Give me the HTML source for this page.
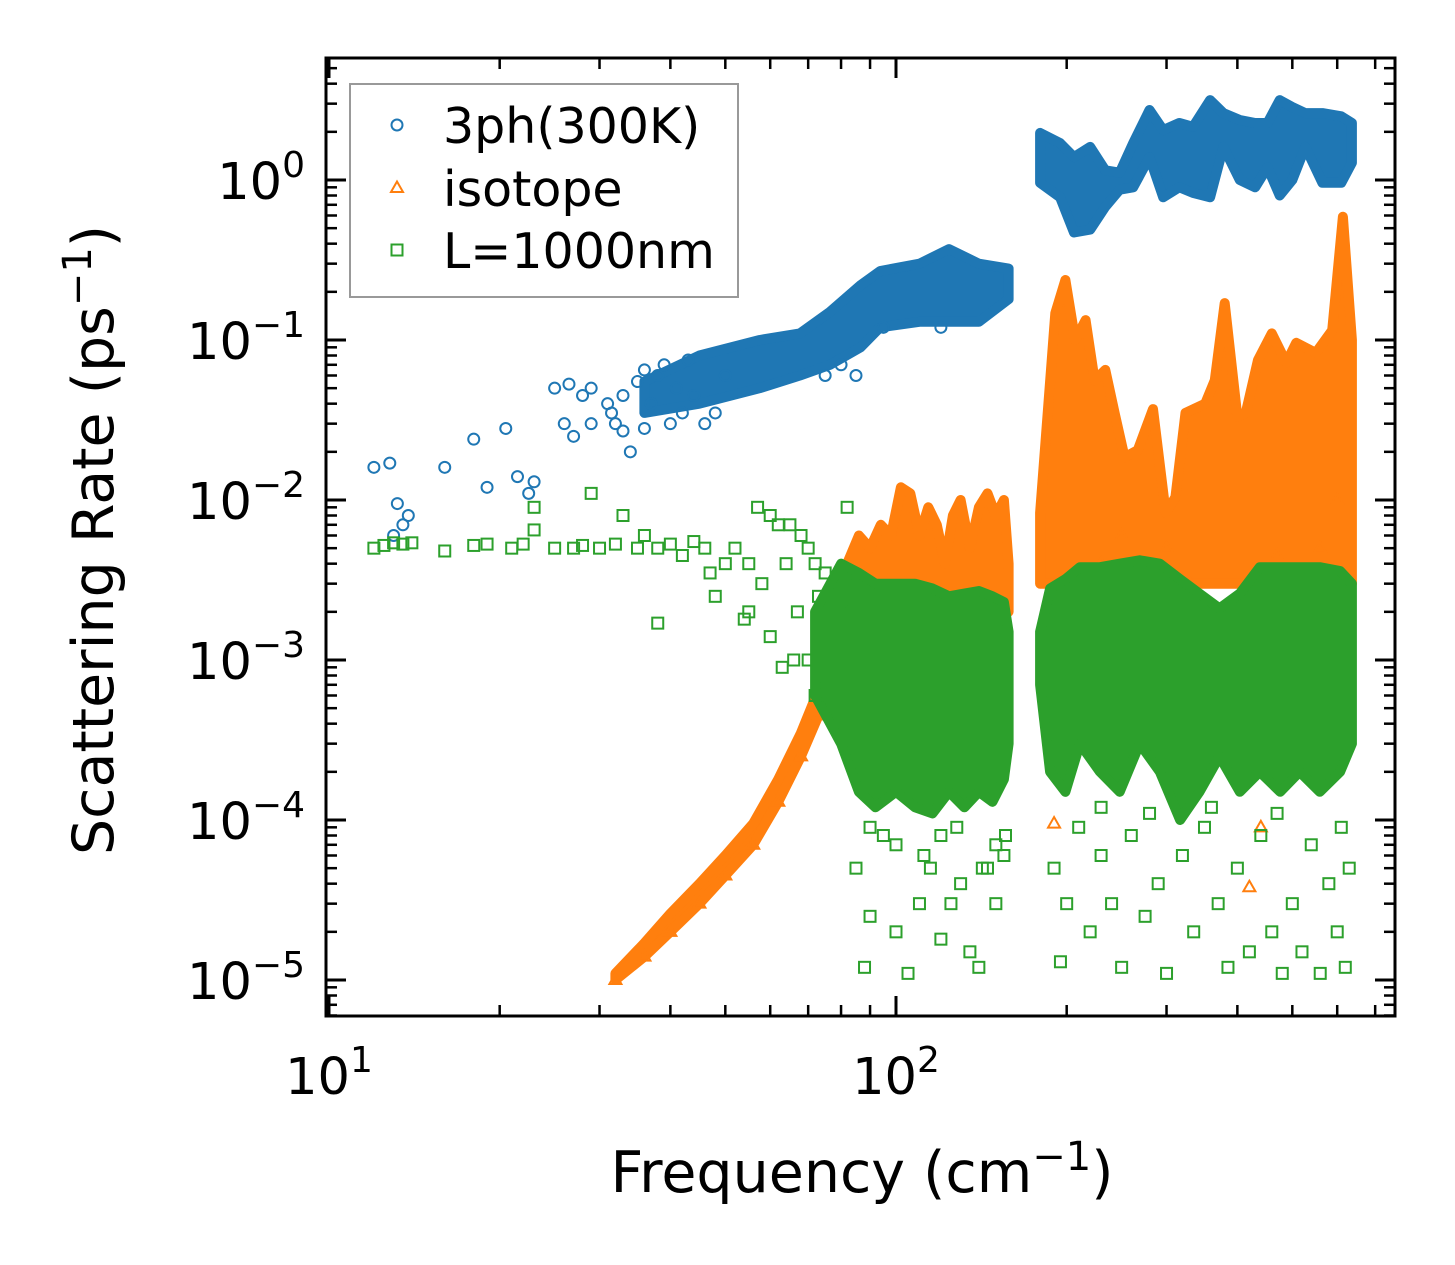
<!DOCTYPE html>
<html><head><meta charset="utf-8">
<style>
html,body{margin:0;padding:0;background:#fff;}
svg{display:block;font-family:"DejaVu Sans","Liberation Sans",sans-serif;}
</style></head>
<body>
<svg id="chart" width="1455" height="1265" viewBox="0 0 1455 1265" xmlns="http://www.w3.org/2000/svg">
<g id="marks"></g>
<g id="axes"></g>
<g id="legend"></g>
</svg>
<script>
// ---- data ----
const xTickExps = [1, 2];
const yTickExps = [0, -1, -2, -3, -4, -5];
// 3ph(300K) sparse points
const blueX = [12,12.8,13,13.2,13.5,13.8,16,18,19,20.5,21.5,22.5,23,25,26,26.5,27,28,29,29,31,31.5,32,33,33,34,35,36,36,37,38,39,40,41,42,43,44,46,48,50,75,80,85,95,120];
const blueY = [0.016,0.017,0.006,0.0095,0.007,0.008,0.016,0.024,0.012,0.028,0.014,0.011,0.013,0.05,0.03,0.053,0.025,0.045,0.03,0.05,0.04,0.035,0.03,0.045,0.027,0.02,0.055,0.065,0.028,0.04,0.06,0.07,0.03,0.05,0.035,0.075,0.045,0.03,0.035,0.06,0.06,0.07,0.06,0.12,0.12];
// 3ph dense bands
const blueBand1X = [36,45,57.5,67.7,76.5,86.6,93.8,110,124,140,158];
const blueBand1Lo = [0.035,0.04,0.05,0.06,0.07,0.09,0.12,0.13,0.13,0.13,0.18];
const blueBand1Hi = [0.055,0.08,0.1,0.11,0.15,0.22,0.27,0.3,0.37,0.3,0.28];
const blueBand2X = [179.5,194.7,206,220,234,248,262,280,296,316,334,358,378,404,430,452,475,500,527,565,610,637];
const blueBand2Lo = [0.96,0.78,0.47,0.49,0.68,0.87,0.9,1.39,0.78,0.9,0.83,0.78,1.61,1.0,0.9,1.2,0.8,1.0,1.61,0.96,0.96,1.28];
const blueBand2Hi = [1.97,1.7,1.39,1.61,1.15,1.11,1.7,2.74,2.05,2.27,2.15,3.16,2.62,2.37,2.27,2.27,3.16,2.86,2.62,2.62,2.5,2.27];
// isotope
const orangeLineX = [32,36,40,45,50,56,62,68,73,78];
const orangeLineLo = [1e-5,1.4e-5,2e-5,3e-5,4.5e-5,7e-5,1.3e-4,2.5e-4,4.5e-4,8e-4];
const orangeLineHi = [1.1e-5,1.7e-5,2.6e-5,4e-5,6e-5,9.5e-5,1.8e-4,3.5e-4,6.5e-4,1.2e-3];
const orangeBand1X = [78,82,86,90,94,98,102,106,110,114,118,122,126,130,135,140,145,150,155,158];
const orangeBand1Lo = [1e-3,1.5e-3,2e-3,2e-3,2e-3,2e-3,2e-3,2e-3,2e-3,2e-3,2e-3,2e-3,2e-3,2e-3,2e-3,2e-3,2e-3,2e-3,2e-3,2e-3];
const orangeBand1Hi = [1.5e-3,4e-3,6e-3,5e-3,7e-3,6e-3,1.2e-2,1.1e-2,6e-3,9e-3,7e-3,4e-3,8e-3,1e-2,5e-3,9e-3,1.1e-2,8e-3,1e-2,4e-3];
const orangeBand2X = [179.5,191,199,207,216,224,234,243,253,267,284,299,311,324,351,365,380,400,414,435,460,488,508,550,588,614,637];
const orangeBand2Lo = [3e-3,3e-3,3e-3,3e-3,3e-3,3e-3,3e-3,3e-3,3e-3,3e-3,3e-3,3e-3,3e-3,3e-3,3e-3,3e-3,3e-3,3e-3,3e-3,3e-3,3e-3,3e-3,3e-3,3e-3,3e-3,3e-3,3e-3];
const orangeBand2Hi = [8.3e-3,0.147,0.237,0.1,0.133,0.056,0.065,0.035,0.0185,0.0205,0.037,8.3e-3,0.0104,0.035,0.04,0.056,0.17,0.033,0.035,0.075,0.11,0.072,0.096,0.083,0.115,0.59,0.1];
const orangeX = [190,420,440,600,560,300,250,230,330,470];
const orangeY = [9.5e-5,3.8e-5,9e-5,1e-2,5e-3,5e-3,6e-3,4e-3,3e-3,4.5e-3];
// L=1000nm
const greenBand1X = [72,80,86,92,100,108,116,124,132,140,148,155,158];
const greenBand1Lo = [6e-4,3e-4,1.5e-4,1.2e-4,1.5e-4,1.2e-4,1.1e-4,1.5e-4,1.2e-4,1.5e-4,1.3e-4,1.8e-4,3e-4];
const greenBand1Hi = [2e-3,4e-3,3.5e-3,3e-3,3e-3,3e-3,2.8e-3,2.5e-3,2.6e-3,2.7e-3,2.5e-3,2.3e-3,1.5e-3];
const greenBand2X = [179.5,187,199,211,229,248,269,292,317,343,372,404,438,476,515,559,607,637];
const greenBand2Lo = [7e-4,2e-4,1.5e-4,3e-4,2e-4,1.5e-4,3e-4,2e-4,1e-4,1.5e-4,2.5e-4,1.5e-4,2e-4,1.5e-4,2e-4,1.5e-4,2e-4,3e-4];
const greenBand2Hi = [1.5e-3,2.8e-3,3.2e-3,3.8e-3,3.8e-3,4e-3,4.2e-3,4e-3,3.2e-3,2.6e-3,2.1e-3,2.6e-3,3.8e-3,3.8e-3,3.8e-3,3.8e-3,3.6e-3,3e-3];
const greenX = [12,12.5,13,13.5,14,16,18,19,21,22,23,23,25,27,28,29,30,32,33,35,36,38,40,42,44,46,47,48,50,52,55,57,60,62,65,68,70,72,75,78,38,54,60,63,66,70,72,75,55,64,58,67,73,76,80,82,85,
  85,88,90,95,100,105,110,115,120,125,130,135,140,145,150,155,90,120,150,100,112,128,142,156,
  190,195,200,210,220,230,240,250,260,275,290,300,320,335,350,370,385,400,420,440,460,480,500,520,540,560,580,600,620,630,610,470,360,280,230];
const greenY = [5e-3,5.2e-3,5.4e-3,5.3e-3,5.4e-3,4.8e-3,5.2e-3,5.3e-3,5e-3,5.3e-3,6.5e-3,9e-3,5e-3,5e-3,5.2e-3,1.1e-2,5e-3,5.3e-3,8e-3,5e-3,6e-3,5e-3,5.3e-3,4.5e-3,5.5e-3,5e-3,3.5e-3,2.5e-3,4e-3,5e-3,4e-3,9e-3,8e-3,7e-3,7e-3,6e-3,5e-3,4e-3,3.5e-3,3e-3,1.7e-3,1.8e-3,1.4e-3,9e-4,1e-3,1e-3,6e-4,8e-4,2e-3,4e-3,3e-3,2e-3,2.5e-3,5e-4,2e-3,9e-3,3e-3,
  5e-5,1.2e-5,2.5e-5,8e-5,2e-5,1.1e-5,3e-5,5e-5,1.8e-5,3e-5,4e-5,1.5e-5,1.2e-5,5e-5,3e-5,6e-5,9e-5,8e-5,7e-5,7e-5,6e-5,9e-5,5e-5,8e-5,
  5e-5,1.3e-5,3e-5,9e-5,2e-5,6e-5,3e-5,1.2e-5,8e-5,2.5e-5,4e-5,1.1e-5,6e-5,2e-5,9e-5,3e-5,1.2e-5,5e-5,1.5e-5,8e-5,2e-5,1.1e-5,3e-5,1.5e-5,7e-5,1.1e-5,4e-5,2e-5,1.2e-5,5e-5,9e-5,1.1e-4,1.2e-4,1.1e-4,1.2e-4];

// ---- axes functions ----
const L=326,R=1395,T=58,B=1016;
const X10=329, XDEC=567;
const Y0=180, YDEC=160;
const xs = v => X10 + (Math.log10(v)-1)*XDEC;
const ys = v => Y0 - Math.log10(v)*YDEC;
const NS='http://www.w3.org/2000/svg';
const marks=document.getElementById('marks');
const axes=document.getElementById('axes');
const legend=document.getElementById('legend');
function mk(tag, attrs, parent){const e=document.createElementNS(NS,tag);for(const k in attrs)e.setAttribute(k,attrs[k]);parent.appendChild(e);return e;}

const C={blue:'#1f77b4',orange:'#ff7f0e',green:'#2ca02c'};

const defs=mk('defs',{},marks);
const cp=mk('clipPath',{id:'clip'},defs);
mk('rect',{x:L,y:T,width:R-L,height:B-T},cp);
const plot=mk('g',{'clip-path':'url(#clip)'},marks);

function band(xArr,lo,hi,color,name){
  let d='M';
  for(let i=0;i<xArr.length;i++) d+=(i?' L':'')+xs(xArr[i]).toFixed(1)+' '+ys(hi[i]).toFixed(1);
  for(let i=xArr.length-1;i>=0;i--) d+=' L'+xs(xArr[i]).toFixed(1)+' '+ys(lo[i]).toFixed(1);
  d+=' Z';
  const p=mk('path',{d:d,fill:color,stroke:color,'stroke-width':10,'stroke-linejoin':'round'},plot);
  
  
}
function marker(type,cx,cy,color,parent){
  let e;
  if(type==='o') e=mk('circle',{cx:cx,cy:cy,r:5.5,fill:'none',stroke:color,'stroke-width':2},parent);
  else if(type==='^') e=mk('polygon',{points:`${cx},${cy-6.5} ${cx-6},${cy+4} ${cx+6},${cy+4}`,fill:'none',stroke:color,'stroke-width':2},parent);
  else e=mk('rect',{x:cx-5.5,y:cy-5.5,width:11,height:11,fill:'none',stroke:color,'stroke-width':2},parent);
  return e;
}
function points(xArr,yArr,type,color,name){
  for(let i=0;i<xArr.length;i++){
    const e=marker(type,xs(xArr[i]),ys(yArr[i]),color,plot);
    
    
  }
}
band(blueBand1X,blueBand1Lo,blueBand1Hi,C.blue,'3ph-band-low');
band(blueBand2X,blueBand2Lo,blueBand2Hi,C.blue,'3ph-band-high');
points(blueX,blueY,'o',C.blue,'3ph-point');
band(orangeLineX,orangeLineLo,orangeLineHi,C.orange,'isotope-band-rise');
points(orangeLineX,orangeLineLo,'^',C.orange,'isotope-point');
band(orangeBand1X,orangeBand1Lo,orangeBand1Hi,C.orange,'isotope-band-mid');
band(orangeBand2X,orangeBand2Lo,orangeBand2Hi,C.orange,'isotope-band-high');
points(orangeX,orangeY,'^',C.orange,'isotope-point');
band(greenBand1X,greenBand1Lo,greenBand1Hi,C.green,'boundary-band-mid');
band(greenBand2X,greenBand2Lo,greenBand2Hi,C.green,'boundary-band-high');
points(greenX,greenY,'s',C.green,'boundary-point');

// ---- ticks ----
const xMin=Math.pow(10,1-(X10-L)/XDEC), xMax=Math.pow(10,1+(R-X10)/XDEC);
for(let dec=0;dec<=3;dec++){
  for(let m=1;m<=9;m++){
    const v=m*Math.pow(10,dec);
    if(v<xMin||v>xMax) continue;
    const x=xs(v), len=m===1?20:11, w=m===1?3:2.5;
    const t1=mk('line',{x1:x,y1:B,x2:x,y2:B-len,stroke:'#000','stroke-width':w},axes);
    
    
    mk('line',{x1:x,y1:T,x2:x,y2:T+len,stroke:'#000','stroke-width':w},axes);
  }
}
const yMin=Math.pow(10,-(B-Y0)/YDEC), yMax=Math.pow(10,(Y0-T)/YDEC);
for(let dec=-6;dec<=1;dec++){
  for(let m=1;m<=9;m++){
    const v=m*Math.pow(10,dec);
    if(v<yMin||v>yMax) continue;
    const y=ys(v), len=m===1?20:11, w=m===1?3:2.5;
    const t1=mk('line',{x1:L,y1:y,x2:L+len,y2:y,stroke:'#000','stroke-width':w},axes);
    
    
    mk('line',{x1:R,y1:y,x2:R-len,y2:y,stroke:'#000','stroke-width':w},axes);
  }
}
const frame=mk('rect',{x:L,y:T,width:R-L,height:B-T,fill:'none',stroke:'#000','stroke-width':3},axes);



function powLabel(x,y,exp,anchor,name){
  const t=mk('text',{x:x,y:y,'font-size':51,'text-anchor':anchor,fill:'#000'},axes);
  
  
  const a=document.createElementNS(NS,'tspan');a.textContent='10';t.appendChild(a);
  const b=document.createElementNS(NS,'tspan');b.setAttribute('dy','-22');b.setAttribute('font-size','36');
  b.textContent=(exp<0?'\u2212':'')+Math.abs(exp);t.appendChild(b);
}
xTickExps.forEach(e=>powLabel(xs(Math.pow(10,e)),1094,e,'middle','x-tick-label'));
yTickExps.forEach(e=>powLabel(305,ys(Math.pow(10,e))+19,e,'end','y-tick-label'));

const xt=mk('text',{x:862,y:1192,'font-size':57,'text-anchor':'middle',fill:'#000'},axes);


xt.innerHTML='Frequency (cm<tspan dy="-22" font-size="40">\u22121</tspan><tspan dy="22">)</tspan>';
const yt=mk('text',{x:0,y:0,'font-size':57,'text-anchor':'middle',fill:'#000',transform:'translate(113,540) rotate(-90)'},axes);


yt.innerHTML='Scattering Rate (ps<tspan dy="-22" font-size="40">\u22121</tspan><tspan dy="22">)</tspan>';

const lb=mk('rect',{x:350,y:84,width:388,height:213,fill:'#fff','fill-opacity':0.8,stroke:'#999','stroke-width':2},legend);


const legLabels=['3ph(300K)','isotope','L=1000nm'];
const legTypes=['o','^','s'];
const legColors=[C.blue,C.orange,C.green];
const legY=[125,188,250];
for(let i=0;i<3;i++){
  const g=mk('g',{},legend);
  
  
  marker(legTypes[i],397,legY[i],legColors[i],g);
  const t=mk('text',{x:443,y:legY[i]+18,'font-size':49,fill:'#000'},g);
  t.textContent=legLabels[i];
}
</script>
</body></html>
